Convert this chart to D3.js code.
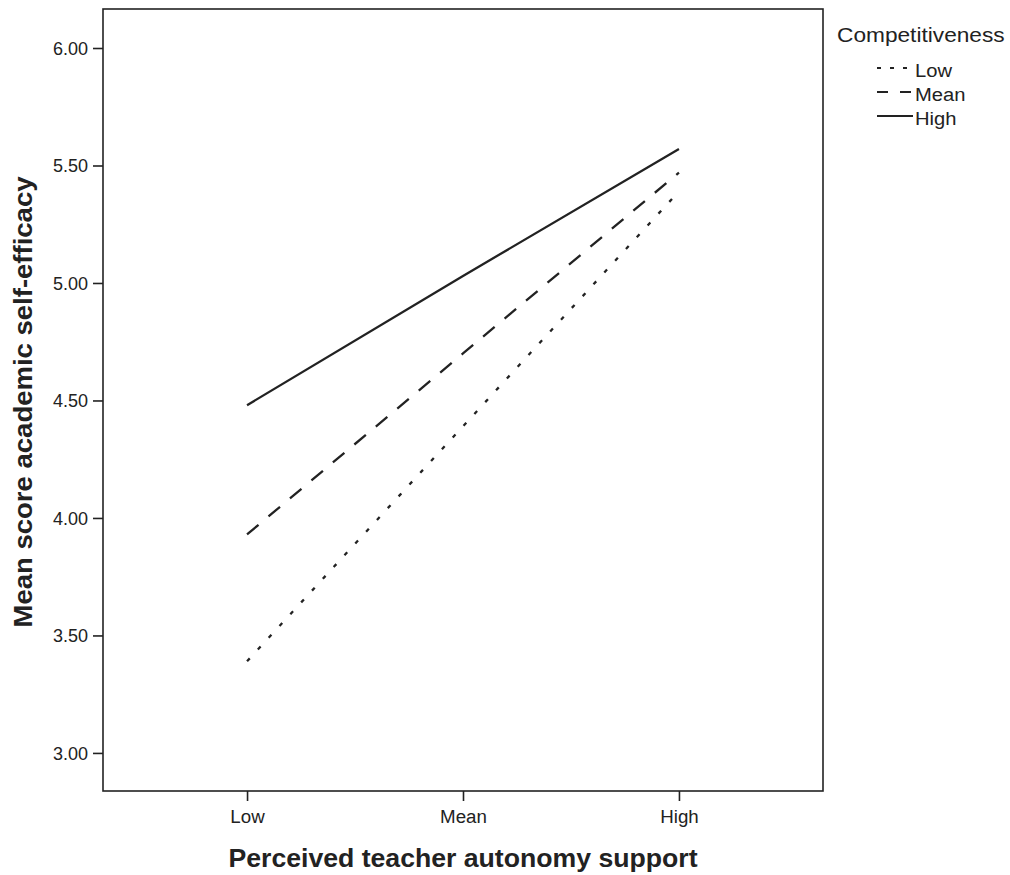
<!DOCTYPE html>
<html>
<head>
<meta charset="utf-8">
<script src="https://cdn.jsdelivr.net/npm/d3@7"></script>
<style>
  body { margin: 0; background: #fff; }
  text { font-family: "Liberation Sans", Arial, sans-serif; fill: #222; }
</style>
</head>
<body>
<div id="chart"></div>
<script>
var svgWidth = 1010;
var svgHeight = 875;

var margin = { top: 9, right: 187, bottom: 84, left: 103 };
var width = svgWidth - margin.left - margin.right;
var height = svgHeight - margin.top - margin.bottom;

// data
var supportLevels = ["Low", "Mean", "High"];
var competitivenessLevels = ["Low", "Mean", "High"];
var lowComp = [3.39, 4.39, 5.39];
var meanComp = [3.93, 4.70, 5.47];
var highComp = [4.48, 5.03, 5.57];
var yTicks = [3.0, 3.5, 4.0, 4.5, 5.0, 5.5, 6.0];

var dashes = ["4,12", "15,13", null];
var legendDashes = ["4,9", "11,12", null];

var series = competitivenessLevels.map(function(name, i) {
  return { name: name, values: [lowComp, meanComp, highComp][i], dash: dashes[i], legendDash: legendDashes[i] };
});

// the original text is a bit wider than Arial, stretch it a little
function stretch(sel, k) {
  sel.each(function() {
    var len = this.getComputedTextLength();
    d3.select(this).attr("textLength", len * k).attr("lengthAdjust", "spacingAndGlyphs");
  });
}

var svg = d3.select("#chart")
  .append("svg")
  .attr("width", svgWidth)
  .attr("height", svgHeight);

var chartGroup = svg.append("g")
  .attr("transform", `translate(${margin.left}, ${margin.top})`);

var xScale = d3.scalePoint()
  .domain(supportLevels)
  .range([0, width])
  .padding(0.667);

var yScale = d3.scaleLinear()
  .domain([2.838, 6.166])
  .range([height, 0]);

// frame
chartGroup.append("rect")
  .attr("width", width)
  .attr("height", height)
  .attr("fill", "none")
  .attr("stroke", "#222")
  .attr("stroke-width", 1.6);

var bottomAxis = d3.axisBottom(xScale).tickSize(10).tickSizeOuter(0);
var leftAxis = d3.axisLeft(yScale).tickValues(yTicks).tickFormat(d3.format(".2f")).tickSize(10).tickSizeOuter(0);

var xAxisG = chartGroup.append("g")
  .attr("transform", `translate(0, ${height})`)
  .call(bottomAxis);
var yAxisG = chartGroup.append("g")
  .call(leftAxis);

[xAxisG, yAxisG].forEach(function(g) {
  g.select(".domain").remove();
  g.selectAll("line").attr("stroke", "#222").attr("stroke-width", 1.6);
  g.selectAll("text").style("font-size", "18px").attr("fill", "#222");
});
xAxisG.selectAll("text").attr("y", 32).attr("dy", null);
yAxisG.selectAll("text").attr("x", -15).attr("dy", "0.35em");
stretch(xAxisG.selectAll("text"), 1.04);

var line = d3.line()
  .x(function(d, i) { return xScale(supportLevels[i]); })
  .y(function(d) { return yScale(d); });

chartGroup.selectAll(".series")
  .data(series)
  .enter()
  .append("path")
  .attr("class", "series")
  .attr("d", function(d) { return line(d.values); })
  .attr("fill", "none")
  .attr("stroke", "#222")
  .attr("stroke-width", 2.3)
  .attr("stroke-dasharray", function(d) { return d.dash; });

// axis labels
var yLabel = chartGroup.append("text")
  .attr("transform", "rotate(-90)")
  .attr("x", -(402 - margin.top))
  .attr("y", -margin.left + 32)
  .attr("text-anchor", "middle")
  .style("font-size", "25px")
  .style("font-weight", "bold")
  .text("Mean score academic self-efficacy");
stretch(yLabel, 1.1);

var xLabel = chartGroup.append("text")
  .attr("x", width / 2)
  .attr("y", height + 76)
  .attr("text-anchor", "middle")
  .style("font-size", "25px")
  .style("font-weight", "bold")
  .text("Perceived teacher autonomy support");
stretch(xLabel, 1.065);

// legend
var legend = svg.append("g")
  .attr("transform", "translate(837, 0)");

var legendTitle = legend.append("text")
  .attr("x", 0)
  .attr("y", 42)
  .style("font-size", "21px")
  .text("Competitiveness");
stretch(legendTitle, 1.08);

var legendItems = legend.selectAll(".legend-item")
  .data(series)
  .enter()
  .append("g")
  .attr("class", "legend-item")
  .attr("transform", function(d, i) { return `translate(0, ${68 + i * 24})`; });

legendItems.append("line")
  .attr("x1", 40)
  .attr("x2", 76)
  .attr("y1", 0)
  .attr("y2", 0)
  .attr("stroke", "#222")
  .attr("stroke-width", 2.2)
  .attr("stroke-dasharray", function(d) { return d.legendDash; });

var legendText = legendItems.append("text")
  .attr("x", 78)
  .attr("y", 9)
  .style("font-size", "18px")
  .text(function(d) { return d.name; });
stretch(legendText, 1.12);
</script>
</body>
</html>
